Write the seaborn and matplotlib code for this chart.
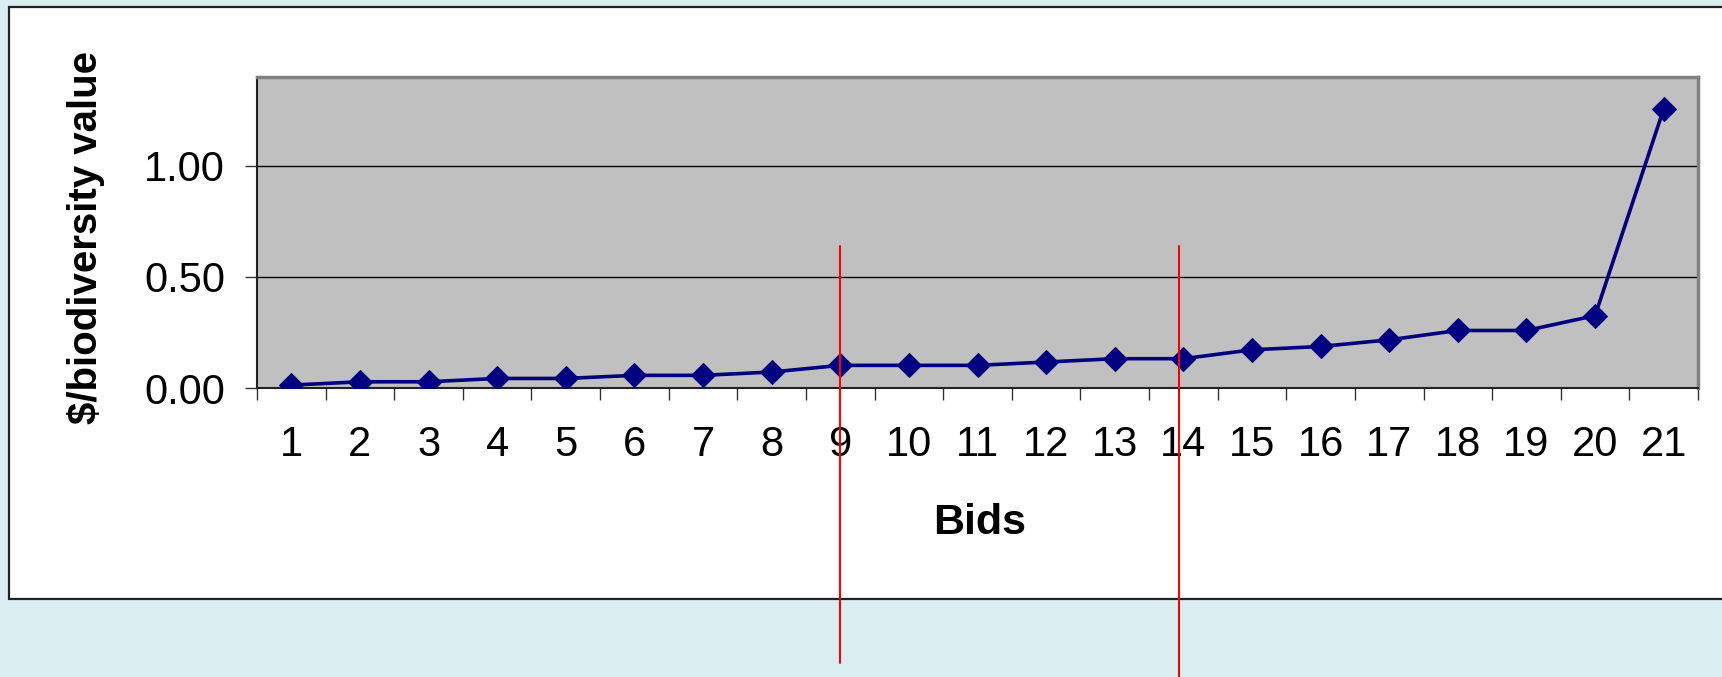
import matplotlib
matplotlib.use("Agg")
import matplotlib.pyplot as plt
import seaborn as sns
import numpy as np
import pandas as pd
from matplotlib.patches import Rectangle
from matplotlib.ticker import FixedLocator, FormatStrFormatter

# ---- data ----
bids = list(range(1, 22))
values = [0.013, 0.028, 0.028, 0.043, 0.043, 0.057, 0.057, 0.072, 0.102, 0.102,
          0.102, 0.117, 0.132, 0.132, 0.172, 0.187, 0.217, 0.259, 0.259, 0.326, 1.257]
y_ticks = [0.0, 0.5, 1.0]
red_lines_x = [9.0, 13.93]
x_label = "Bids"
y_label = "$/biodiversity value"

df = pd.DataFrame({"Bids": bids, "value": values})

sns.set_style("white")
plt.rcParams['font.family'] = ['Liberation Sans', 'DejaVu Sans']
plt.rcParams['text.color'] = 'black'
plt.rcParams['xtick.labelcolor'] = 'black'
plt.rcParams['ytick.labelcolor'] = 'black'

W, H, DPI = 1722, 677, 100
fig = plt.figure(figsize=(W / DPI, H / DPI), dpi=DPI)
fig.patch.set_facecolor('#DAEEF1')

# white panel
panel = Rectangle((9 / W, 1 - 599 / H), 1.2, (599 - 7) / H, transform=fig.transFigure,
                  facecolor='white', edgecolor='#222222', linewidth=1.6, zorder=-10)
fig.patches.append(panel)

ax = fig.add_axes([257 / W, 1 - 388 / H, (1698 - 257) / W, (388 - 76.7) / H])
ax.set_facecolor('#C0C0C0')

sns.lineplot(data=df, x="Bids", y="value", ax=ax, color='#000080', linewidth=2.6,
             marker='D', markersize=12, markeredgecolor='#000080', zorder=5)

ax.set_xlim(0.5, 21.5)
ax.set_ylim(0, 1.402)

# gridlines
for yv in y_ticks[1:]:
    ax.axhline(yv, color='black', linewidth=1.0, zorder=1)

# ticks
ax.yaxis.set_major_locator(FixedLocator(y_ticks))
ax.yaxis.set_major_formatter(FormatStrFormatter('%.2f'))
ax.xaxis.set_major_locator(FixedLocator(bids))
ax.set_xticklabels([str(b) for b in bids])
ax.xaxis.set_minor_locator(FixedLocator(np.arange(0.5, 22, 1.0)))
ax.tick_params(axis='x', which='major', length=0, pad=18 + 8.6, labelsize=30, labelcolor='black')
ax.tick_params(axis='x', which='minor', length=8.6, width=1.0, color='#333333', direction='out', bottom=True)
ax.tick_params(axis='y', which='major', length=9, width=1.0, color='#333333', direction='out',
               pad=14, labelsize=30, left=True, labelcolor='black')

# spines
for s in ['left', 'bottom']:
    ax.spines[s].set_color('#222222')
    ax.spines[s].set_linewidth(1.5)
for s in ['top', 'right']:
    ax.spines[s].set_color('#808080')
    ax.spines[s].set_linewidth(2.5)
    ax.spines[s].set_visible(True)

ax.set_xlabel("")
ax.set_ylabel("")

# axis titles
fig.text(86 / W, 1 - 238 / H, y_label, rotation=90, ha='center', va='center',
         fontsize=29, fontweight='bold', color='black')
fig.text(980 / W, 1 - 534 / H, x_label, ha='center', va='baseline',
         fontsize=31, fontweight='bold', color='black')

# red vertical markers (extend beyond the plot)
ax.plot([red_lines_x[0]] * 2, [0.64, -1.239], color='#FF0000', linewidth=1.5,
        clip_on=False, zorder=10)
ax.plot([red_lines_x[1]] * 2, [0.64, -1.32], color='#FF0000', linewidth=1.5,
        clip_on=False, zorder=10)

fig.savefig("out.png", dpi=DPI)
